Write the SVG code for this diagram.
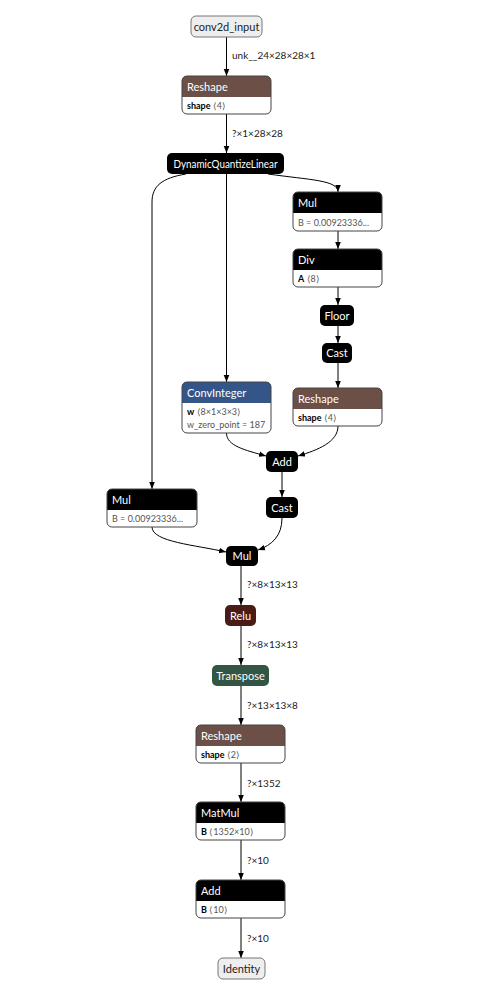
<svg xmlns="http://www.w3.org/2000/svg" width="478" height="988" viewBox="0 0 478 988">
  <style>
    text { font-family: "Lato", "Liberation Sans", sans-serif; }
    .bg { fill: #ffffff; }
    .border { fill: none; stroke: #444; stroke-width: 1; }
    .io { fill: #eeeeee; stroke: #777; stroke-width: 1; }
    .hd-black { fill: #000000; }
    .hd-shape { fill: #6c4f47; }
    .hd-layer { fill: #335588; }
    .hd-act { fill: #4b1b16; }
    .hd-trans { fill: #335544; }
    .title { font-size: 11px; fill: #ffffff; }
    .io-title { font-size: 11px; fill: #222; text-anchor: middle; }
    .ctr { text-anchor: middle; }
    .attr { font-size: 9px; fill: #555; }
    .attr .k { font-weight: bold; fill: #000; }
    .edge { fill: none; stroke: #000; stroke-width: 1; marker-end: url(#arrow); }
    .elabel { font-size: 10px; fill: #222; }
  </style>
  <defs>
    <marker id="arrow" viewBox="0 0 10 10" refX="10" refY="5" markerWidth="7" markerHeight="7" markerUnits="userSpaceOnUse" orient="auto">
      <path d="M0,1 L10,5 L0,9 Z" fill="#000"/>
    </marker>
  </defs>

  <!-- connectors -->
  <g id="edges">
    <path class="edge" d="M226.5,37 L226.5,76"/>
    <text class="elabel" x="232" y="59">unk__24×28×28×1</text>
    <path class="edge" d="M226.5,114 L226.5,153"/>
    <text class="elabel" x="232" y="137">?×1×28×28</text>
    <path class="edge" d="M268,174 C310,180 338,180 338,192"/>
    <path class="edge" d="M186,174 C162,178 152,186 152,202 L152,489"/>
    <path class="edge" d="M226.5,174 L226.5,382"/>
    <path class="edge" d="M338,231 L338,249"/>
    <path class="edge" d="M338,287 L338,305"/>
    <path class="edge" d="M338,326 L338,343"/>
    <path class="edge" d="M338,363 L338,388"/>
    <path class="edge" d="M226.5,433 C226.5,446 245,450 266,456"/>
    <path class="edge" d="M338,426 C338,442 318,450 298,456"/>
    <path class="edge" d="M282,472 L282,497"/>
    <path class="edge" d="M282,518 C282,536 272,545 258,550"/>
    <path class="edge" d="M152,527 C152,542 196,545 226,552"/>
    <path class="edge" d="M241,566 L241,605"/>
    <text class="elabel" x="247" y="588">?×8×13×13</text>
    <path class="edge" d="M241,626 L241,665"/>
    <text class="elabel" x="247" y="648">?×8×13×13</text>
    <path class="edge" d="M241,686 L241,725"/>
    <text class="elabel" x="247" y="709">?×13×13×8</text>
    <path class="edge" d="M241,763 L241,802"/>
    <text class="elabel" x="247" y="787">?×1352</text>
    <path class="edge" d="M241,840 L241,880"/>
    <text class="elabel" x="247" y="864">?×10</text>
    <path class="edge" d="M241,918 L241,958"/>
    <text class="elabel" x="247" y="942">?×10</text>
  </g>

  <!-- nodes -->
  <g id="conv2d_input">
    <rect class="io" x="191" y="16" width="71" height="21" rx="5"/>
    <text class="io-title" x="226.5" y="30.5">conv2d_input</text>
  </g>

  <g id="reshape_1">
    <rect class="bg" x="182" y="76" width="89" height="38" rx="5"/>
    <path class="hd-shape" d="M182,97 V81 Q182,76 187,76 H266 Q271,76 271,81 V97 Z"/>
    <rect class="border" x="182" y="76" width="89" height="38" rx="5"/>
    <text class="title" x="187" y="90.5">Reshape</text>
    <text class="attr" x="187" y="109"><tspan class="k">shape</tspan> ⟨4⟩</text>
  </g>

  <g id="dynamic_quantize_linear">
    <rect class="hd-black" x="167" y="153" width="117" height="21" rx="5"/>
    <text class="title ctr" x="225.5" y="167.5" textLength="104" lengthAdjust="spacingAndGlyphs">DynamicQuantizeLinear</text>
  </g>

  <g id="mul_scale">
    <rect class="bg" x="293" y="192" width="89" height="39" rx="5"/>
    <path class="hd-black" d="M293,213 V197 Q293,192 298,192 H377 Q382,192 382,197 V213 Z"/>
    <rect class="border" x="293" y="192" width="89" height="39" rx="5"/>
    <text class="title" x="298" y="206.5">Mul</text>
    <text class="attr" x="298" y="226">B = 0.00923336...</text>
  </g>

  <g id="div">
    <rect class="bg" x="293" y="249" width="89" height="38" rx="5"/>
    <path class="hd-black" d="M293,270 V254 Q293,249 298,249 H377 Q382,249 382,254 V270 Z"/>
    <rect class="border" x="293" y="249" width="89" height="38" rx="5"/>
    <text class="title" x="298" y="263.5">Div</text>
    <text class="attr" x="298" y="282"><tspan class="k">A</tspan> ⟨8⟩</text>
  </g>

  <g id="floor">
    <rect class="hd-black" x="320" y="305" width="34" height="21" rx="5"/>
    <text class="title ctr" x="337" y="319.5">Floor</text>
  </g>

  <g id="cast_1">
    <rect class="hd-black" x="322" y="343" width="30" height="20" rx="5"/>
    <text class="title ctr" x="337" y="357">Cast</text>
  </g>

  <g id="reshape_2">
    <rect class="bg" x="293" y="388" width="89" height="38" rx="5"/>
    <path class="hd-shape" d="M293,409 V393 Q293,388 298,388 H377 Q382,388 382,393 V409 Z"/>
    <rect class="border" x="293" y="388" width="89" height="38" rx="5"/>
    <text class="title" x="298" y="402.5">Reshape</text>
    <text class="attr" x="298" y="421"><tspan class="k">shape</tspan> ⟨4⟩</text>
  </g>

  <g id="conv_integer">
    <rect class="bg" x="182" y="382" width="89" height="51" rx="5"/>
    <path class="hd-layer" d="M182,403 V387 Q182,382 187,382 H266 Q271,382 271,387 V403 Z"/>
    <rect class="border" x="182" y="382" width="89" height="51" rx="5"/>
    <text class="title" x="187" y="396.5">ConvInteger</text>
    <text class="attr" x="187" y="415"><tspan class="k">w</tspan> ⟨8×1×3×3⟩</text>
    <text class="attr" x="187" y="428">w_zero_point = 187</text>
  </g>

  <g id="add_1">
    <rect class="hd-black" x="266" y="451" width="32" height="21" rx="5"/>
    <text class="title ctr" x="282" y="465.5">Add</text>
  </g>

  <g id="cast_2">
    <rect class="hd-black" x="266" y="497" width="32" height="21" rx="5"/>
    <text class="title ctr" x="282" y="511.5">Cast</text>
  </g>

  <g id="mul_left">
    <rect class="bg" x="107" y="489" width="90" height="38" rx="5"/>
    <path class="hd-black" d="M107,510 V494 Q107,489 112,489 H192 Q197,489 197,494 V510 Z"/>
    <rect class="border" x="107" y="489" width="90" height="38" rx="5"/>
    <text class="title" x="112" y="503.5">Mul</text>
    <text class="attr" x="112" y="522">B = 0.00923336...</text>
  </g>

  <g id="mul_center">
    <rect class="hd-black" x="226" y="546" width="32" height="20" rx="5"/>
    <text class="title ctr" x="242" y="560">Mul</text>
  </g>

  <g id="relu">
    <rect class="hd-act" x="225" y="605" width="31" height="21" rx="5"/>
    <text class="title ctr" x="240.5" y="619.5">Relu</text>
  </g>

  <g id="transpose">
    <rect class="hd-trans" x="212" y="665" width="57" height="21" rx="5"/>
    <text class="title ctr" x="240.5" y="679.5">Transpose</text>
  </g>

  <g id="reshape_3">
    <rect class="bg" x="196" y="725" width="89" height="38" rx="5"/>
    <path class="hd-shape" d="M196,746 V730 Q196,725 201,725 H280 Q285,725 285,730 V746 Z"/>
    <rect class="border" x="196" y="725" width="89" height="38" rx="5"/>
    <text class="title" x="201" y="739.5">Reshape</text>
    <text class="attr" x="201" y="758"><tspan class="k">shape</tspan> ⟨2⟩</text>
  </g>

  <g id="matmul">
    <rect class="bg" x="196" y="802" width="89" height="38" rx="5"/>
    <path class="hd-black" d="M196,823 V807 Q196,802 201,802 H280 Q285,802 285,807 V823 Z"/>
    <rect class="border" x="196" y="802" width="89" height="38" rx="5"/>
    <text class="title" x="201" y="816.5">MatMul</text>
    <text class="attr" x="201" y="835"><tspan class="k">B</tspan> ⟨1352×10⟩</text>
  </g>

  <g id="add_2">
    <rect class="bg" x="196" y="880" width="89" height="38" rx="5"/>
    <path class="hd-black" d="M196,901 V885 Q196,880 201,880 H280 Q285,880 285,885 V901 Z"/>
    <rect class="border" x="196" y="880" width="89" height="38" rx="5"/>
    <text class="title" x="201" y="894.5">Add</text>
    <text class="attr" x="201" y="913"><tspan class="k">B</tspan> ⟨10⟩</text>
  </g>

  <g id="identity">
    <rect class="io" x="218" y="958" width="47" height="21" rx="5"/>
    <text class="io-title" x="241.5" y="972.5">Identity</text>
  </g>
</svg>
